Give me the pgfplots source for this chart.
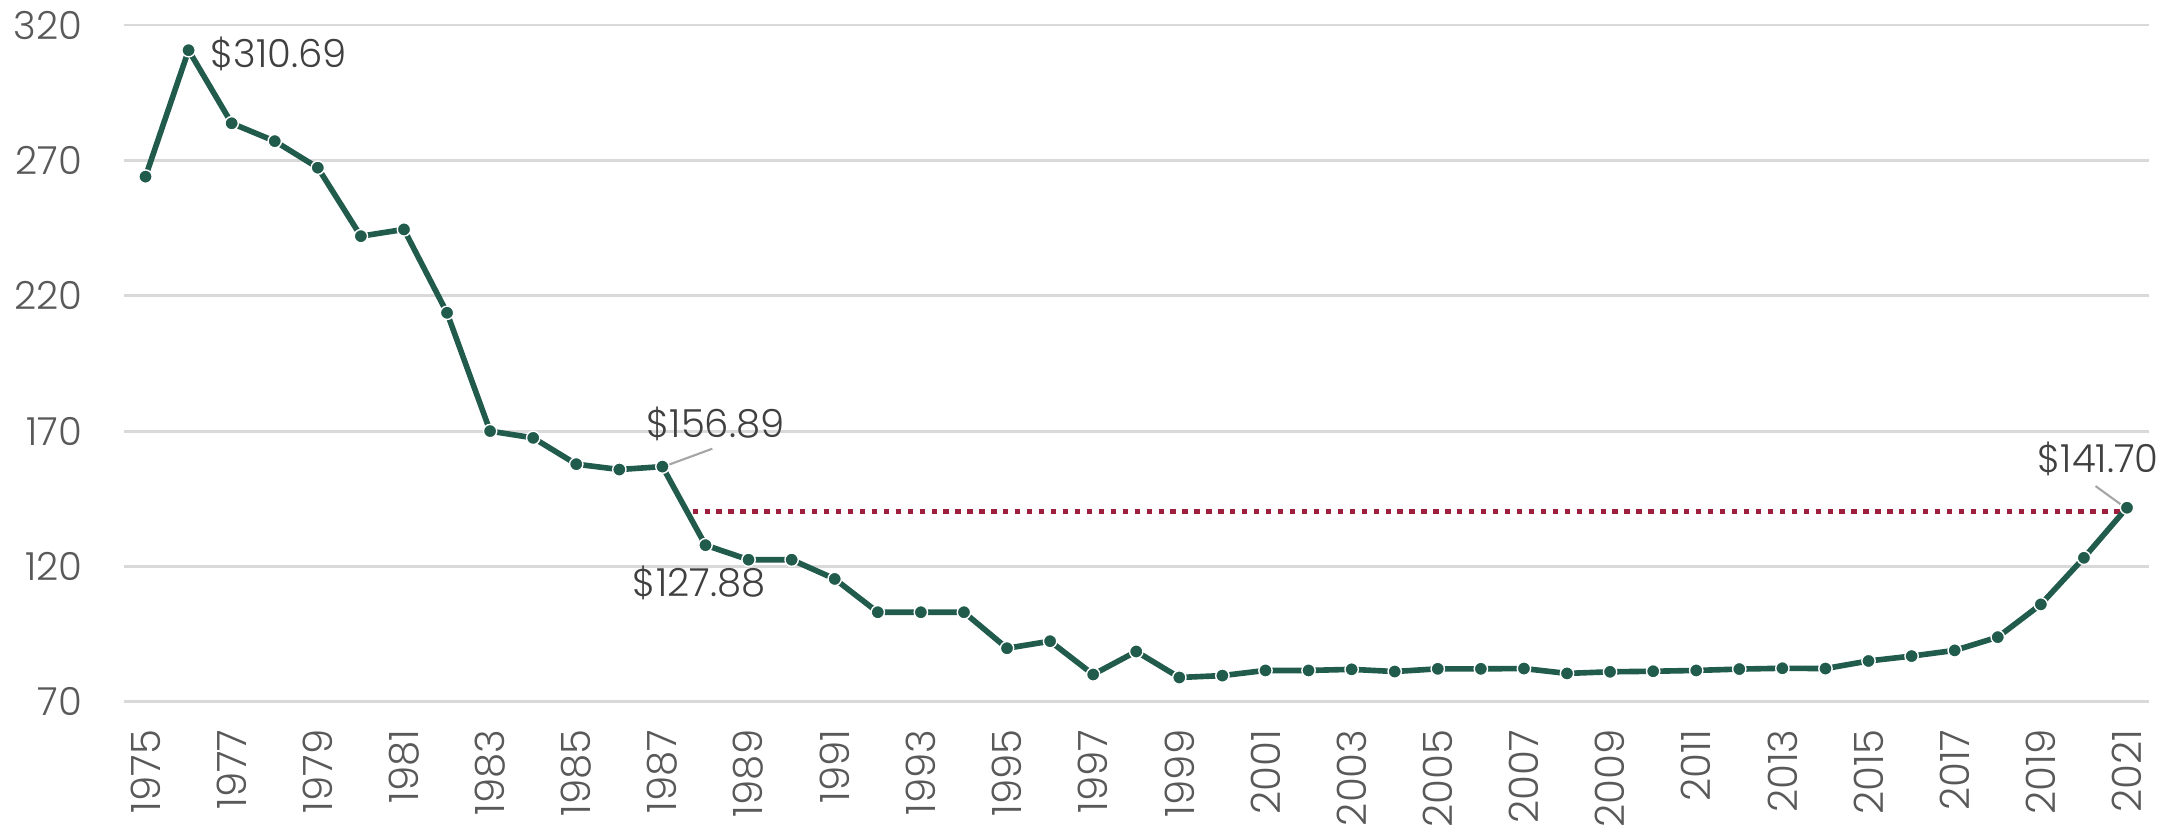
\documentclass[border=0pt]{standalone}
\usepackage{fontspec}
\setmainfont{Poppins}[UprightFont=* Light, Numbers=Proportional]
\usepackage{pgfplots}
\pgfplotsset{compat=1.18}
\definecolor{linegreen}{RGB}{33,91,76}
\definecolor{refred}{RGB}{158,31,61}
\definecolor{gridgray}{RGB}{217,217,217}
\definecolor{txtgray}{RGB}{64,64,64}
\definecolor{tickgray}{RGB}{89,89,89}
\definecolor{leadgray}{RGB}{166,166,166}

\begin{document}
\begin{tikzpicture}
\begin{axis}[
    name=ax,
    width=20.25cm, height=6.77cm, scale only axis,
    xmin=1974.5, xmax=2021.5, ymin=70, ymax=320,
    xtick={1975,1977,...,2021}, ytick={70,120,...,320},
    axis line style={draw=none},
    major tick length=0pt,
    ymajorgrids, grid style={gridgray, line width=0.8pt},
    /pgf/number format/1000 sep={},
    /pgf/number format/assume math mode=true,
    yticklabel style={font=\fontsize{11}{13}\selectfont, text=tickgray, inner sep=0pt, xshift=-0.41cm},
    xticklabel style={font=\fontsize{11.5}{13}\selectfont, text=tickgray, rotate=90, anchor=east, inner sep=0pt, xshift=-0.27cm},
    clip=false,
]
% reference level
\addplot[refred, line width=1.5pt, dash pattern=on 1.5pt off 1.9pt] coordinates {(1987.7,140.4) (2020.9,140.4)};
% price series
\addplot[linegreen, line width=1.6pt, mark=*, mark size=1.9pt,
    mark options={fill=linegreen, draw=white, line width=0.4pt}] coordinates {
  (1975,264.0)(1976,310.69)(1977,283.7)(1978,277.1)(1979,267.3)(1980,242.0)
  (1981,244.5)(1982,213.7)(1983,170.0)(1984,167.5)(1985,157.8)(1986,155.8)
  (1987,156.89)(1988,127.88)(1989,122.5)(1990,122.5)(1991,115.4)(1992,103.1)
  (1993,103.1)(1994,103.1)(1995,89.8)(1996,92.4)(1997,80.1)(1998,88.6)
  (1999,79.0)(2000,79.7)(2001,81.6)(2002,81.6)(2003,82.0)(2004,81.2)
  (2005,82.2)(2006,82.2)(2007,82.3)(2008,80.5)(2009,81.1)(2010,81.3)
  (2011,81.6)(2012,82.1)(2013,82.4)(2014,82.3)(2015,85.1)(2016,86.9)
  (2017,89.0)(2018,93.9)(2019,106.0)(2020,123.2)(2021,141.70)
};
% labels
\draw[leadgray, line width=0.6pt] (axis cs:1987.15,157.6) -- (axis cs:1988.16,163.5);
\draw[leadgray, line width=0.6pt] (axis cs:2020.85,143.0) -- (axis cs:2020.27,149.7);
\begin{scope}[every node/.style={inner sep=0pt, text=txtgray, font=\fontsize{11}{13}\selectfont}]
\node[anchor=west] at (axis cs:1976.5,309.4) {\$310.69};
\node[anchor=west] at (axis cs:1986.62,172.8) {\$156.89};
\node[anchor=west] at (axis cs:1986.3,114.0) {\$127.88};
\node[anchor=east] at (axis cs:2021.75,159.6) {\$141.70};
\end{scope}
\end{axis}
\pgfresetboundingbox
\path[use as bounding box] ([xshift=-1.24cm,yshift=-1.23cm]ax.south west) rectangle ([xshift=0.345cm,yshift=0.25cm]ax.north east);
\end{tikzpicture}
\end{document}
